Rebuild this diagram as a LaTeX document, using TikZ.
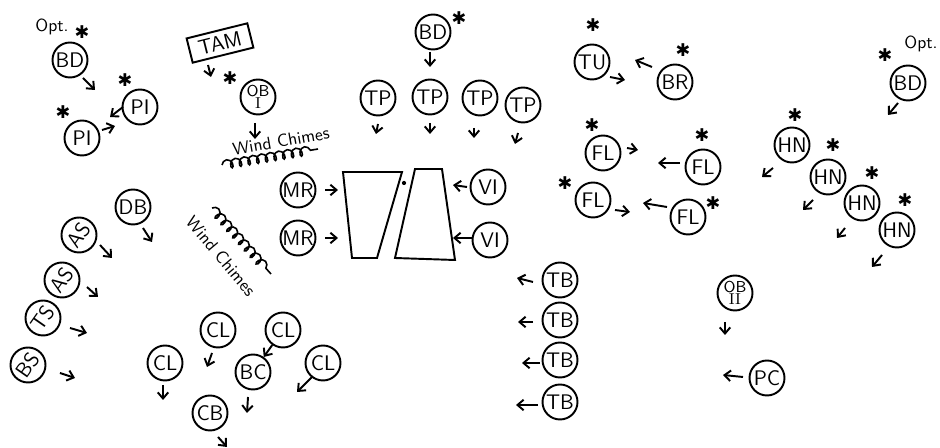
\documentclass[tikz,border=0pt]{standalone}
\usepackage{fontspec}
\newfontfamily\symbfont{DejaVu Sans}
\usetikzlibrary{arrows.meta,decorations.pathmorphing,positioning}
\tikzset{
  % player seat
  seat/.style={circle, draw=black, line width=1.1pt, minimum size=7mm, inner sep=0pt, font=\sffamily\large},
  % facing arrow
  facing/.style={-{Straight Barb[length=3.5pt,width=6pt]}, line width=1.1pt},
  % soloist star
  solo/.style={inner sep=0pt, font=\symbfont},
  % handwritten note
  note/.style={font=\sffamily, inner sep=1pt},
  % wind chime squiggle
  chime/.style={line width=0.9pt, decorate, decoration={coil, aspect=0.7, segment length=5pt, amplitude=2.5pt}},
}

\begin{document}
\begin{tikzpicture}[x=0.02cm, y=-0.02cm]
  \useasboundingbox (0,0) rectangle (940,448);

  % ── Top left: bass drum, piano ──
  \node[note] (optl) at (52,27) {Opt.};
  \node[solo] (bdl-s) at (82,32) {✱};
  \node[seat] (bdl) at (70,60) {BD};
  \draw[facing] (bdl) ++(13,18) -- ++(12,12);

  \node[solo] (pi2-s) at (125,80) {✱};
  \node[seat] (pi2) at (140,107) {PI};
  \draw[facing] (pi2) ++(-17,0) -- ++(-13,10);
  \node[solo] (pi1-s) at (63,112) {✱};
  \node[seat] (pi1) at (82,138) {PI};
  \draw[facing] (pi1) ++(20,-8) -- ++(13,-4);

  % ── Tam-tam, oboe I, wind chimes ──
  \node[draw, line width=1.1pt, rotate=14, font=\sffamily\large, minimum width=12.5mm, minimum height=5mm, inner sep=1pt] (tam) at (220,43) {TAM};
  \draw[facing] (tam) ++(-12,22) -- ++(3,12);
  \node[solo] (ob1-s) at (230,78) {✱};
  \node[seat, align=center, font=\sffamily\small] (ob1) at (258,97) {OB\\[-4pt]\textrm{I}};
  \draw[facing] (ob1) ++(-3,26) -- ++(0,16);
  \node[note, rotate=10] (wc1) at (281,141) {Wind Chimes};
  \coordinate (wc1a) at (222,165);
  \coordinate (wc1b) at (318,149);
  \draw[chime] (wc1a) -- (wc1b);

  % ── Centre: trumpets, mallets, pianos ──
  \node[solo] (bdc-s) at (459,18) {✱};
  \node[seat] (bdc) at (433,32) {BD};
  \draw[facing] (bdc) ++(-3,20) -- ++(0,15);
  \node[seat] (tp1) at (378,98) {TP};
  \node[seat] (tp2) at (430,97) {TP};
  \node[seat] (tp3) at (480,98) {TP};
  \node[seat] (tp4) at (523,105) {TP};
  \draw[facing] (tp1) ++(0,26) -- ++(-2,10);
  \draw[facing] (tp2) ++(0,26) -- ++(0,11);
  \draw[facing] (tp3) ++(-6,30) -- ++(0,10);
  \draw[facing] (tp4) ++(-5,28) -- ++(-3,11);

  \draw[line width=1.1pt] (343,172) -- (402,172) -- (377,258) -- (352,258) -- cycle;
  \draw[line width=1.1pt] (415,169) -- (442,169) -- (455,260) -- (395,258) -- cycle;
  \fill (404,183) circle (1.2pt);

  \node[seat] (mr1) at (298,190) {MR};
  \node[seat] (mr2) at (298,238) {MR};
  \draw[facing] (mr1) ++(27,0) -- ++(13,0);
  \draw[facing] (mr2) ++(27,0) -- ++(13,0);
  \node[seat] (vi1) at (488,187) {VI};
  \node[seat] (vi2) at (490,240) {VI};
  \draw[facing] (vi1) ++(-21,0) -- ++(-14,-2);
  \draw[facing] (vi2) ++(-18,-2) -- ++(-19,0);

  % ── Top right: tuba, baritone, flutes ──
  \node[solo] (tu-s) at (593,25) {✱};
  \node[seat] (tu) at (592,62) {TU};
  \draw[facing] (tu) ++(18,15) -- ++(15,3);
  \node[solo] (br-s) at (683,50) {✱};
  \node[seat] (br) at (675,82) {BR};
  \draw[facing] (br) ++(-23,-15) -- ++(-17,-7);

  \node[solo] (fl1-s) at (592,125) {✱};
  \node[seat] (fl1) at (603,153) {FL};
  \draw[facing] (fl1) ++(24,-5) -- ++(11,2);
  \node[solo] (fl2-s) at (702,135) {✱};
  \node[seat] (fl2) at (703,167) {FL};
  \draw[facing] (fl2) ++(-23,-4) -- ++(-22,0);
  \node[solo] (fl3-s) at (565,183) {✱};
  \node[seat] (fl3) at (593,200) {FL};
  \draw[facing] (fl3) ++(22,10) -- ++(15,2);
  \node[solo] (fl4-s) at (713,203) {✱};
  \node[seat] (fl4) at (688,217) {FL};
  \draw[facing] (fl4) ++(-21,-10) -- ++(-24,-4);

  % ── Far right: bass drum, horns ──
  \node[note] (optr) at (921,44) {Opt.};
  \node[solo] (bdr-s) at (885,55) {✱};
  \node[seat] (bdr) at (908,83) {BD};
  \draw[facing] (bdr) ++(-10,20) -- ++(-10,12);

  \node[solo] (hn1-s) at (795,115) {✱};
  \node[seat] (hn1) at (792,145) {HN};
  \draw[facing] (hn1) ++(-19,23) -- ++(-11,9);
  \node[solo] (hn2-s) at (833,145) {✱};
  \node[seat] (hn2) at (828,177) {HN};
  \draw[facing] (hn2) ++(-15,23) -- ++(-10,10);
  \node[solo] (hn3-s) at (872,173) {✱};
  \node[seat] (hn3) at (862,203) {HN};
  \draw[facing] (hn3) ++(-17,25) -- ++(-8,10);
  \node[solo] (hn4-s) at (905,200) {✱};
  \node[seat] (hn4) at (897,230) {HN};
  \draw[facing] (hn4) ++(-15,25) -- ++(-10,12);

  % ── Bottom left: saxes, double bass ──
  \node[seat] (db) at (133,207) {DB};
  \draw[facing] (db) ++(10,21) -- ++(9,14);
  \node[seat, rotate=55] (as1) at (79,235) {AS};
  \draw[facing] (as1) ++(21,10) -- ++(12,13);
  \node[seat, rotate=55] (as2) at (62,280) {AS};
  \draw[facing] (as2) ++(25,7) -- ++(11,10);
  \node[seat, rotate=55] (ts) at (43,318) {TS};
  \draw[facing] (ts) ++(27,10) -- ++(17,5);
  \node[seat, rotate=55] (bs) at (28,365) {BS};
  \draw[facing] (bs) ++(32,8) -- ++(15,5);

  \node[note, rotate=-50] (wc2) at (221,256) {Wind Chimes};
  \coordinate (wc2a) at (212,208);
  \coordinate (wc2b) at (271,274);
  \draw[chime] (wc2a) -- (wc2b);

  % ── Clarinets ──
  \node[seat] (cl1) at (165,363) {CL};
  \draw[facing] (cl1) ++(-2,22) -- ++(0,15);
  \node[seat] (cl2) at (218,330) {CL};
  \draw[facing] (cl2) ++(-6,23) -- ++(-5,14);
  \node[seat] (cl3) at (283,330) {CL};
  \node[seat] (bc) at (253,372) {BC};
  \draw[facing] (cl3) -- (bc);
  \draw[facing] (bc) ++(-5,25) -- ++(-1,16);
  \node[seat] (cl4) at (323,363) {CL};
  \draw[facing] (cl4) ++(-11,14) -- ++(-15,15);
  \node[seat] (cb) at (210,413) {CB};
  \draw[facing] (cb) ++(8,24) -- ++(9,10);

  % ── Bottom middle: trombones, oboe II, piccolo ──
  \node[seat] (tb1) at (560,280) {TB};
  \node[seat] (tb2) at (560,320) {TB};
  \node[seat] (tb3) at (560,360) {TB};
  \node[seat] (tb4) at (560,402) {TB};
  \draw[facing] (tb1) ++(-27,2) -- ++(-16,-4);
  \draw[facing] (tb2) ++(-27,2) -- ++(-15,0);
  \draw[facing] (tb3) ++(-20,3) -- ++(-18,0);
  \draw[facing] (tb4) ++(-22,3) -- ++(-22,0);

  \node[seat, align=center, font=\sffamily\small] (ob2) at (735,293) {OB\\[-4pt]\textrm{II}};
  \draw[facing] (ob2) ++(-10,29) -- ++(0,13);
  \node[seat] (pc) at (767,378) {PC};
  \draw[facing] (pc) ++(-24,-1) -- ++(-20,-2);

\end{tikzpicture}
\end{document}
